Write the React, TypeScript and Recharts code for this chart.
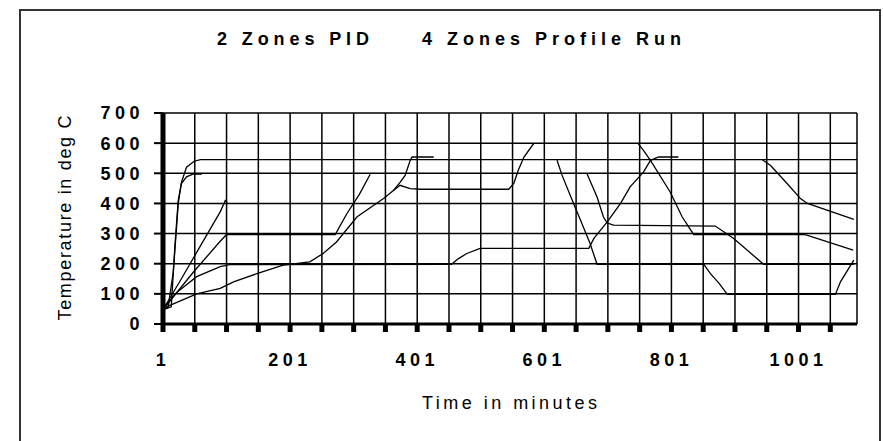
import { LineChart, Line, XAxis, YAxis, CartesianGrid } from "recharts";

// axis ticks
const xTicks = [1, 51, 101, 151, 201, 251, 301, 351, 401, 451, 501, 551, 601, 651, 701, 751, 801, 851, 901, 951, 1001, 1051];
const xLabels = [1, 201, 401, 601, 801, 1001];
const yTicks = [0, 100, 200, 300, 400, 500, 600, 700];

// 2 zones PID
const pid1T = [1, 9, 17, 22, 25, 30, 38, 50, 60, 1093];
const pid1V = [48, 55, 170, 310, 400, 470, 520, 540, 545, 545];
const pid2T = [1, 14, 20, 25, 30, 38, 48, 62];
const pid2V = [48, 57, 267, 411, 466, 488, 497, 497];

// 4 zones profile run (pieces, gaps where the log stops)
const zone1T = [1, 30, 59, 91, 99, 102];
const zone1V = [48, 150, 256, 372, 410, 402];
const zone2T = [1, 50, 90, 101, 272, 290, 310, 327];
const zone2V = [48, 175, 272, 297, 297, 365, 430, 497];
const zone3T = [1, 20, 54, 91, 106, 455, 466, 479, 500, 671, 679, 700, 721, 736, 757, 768, 781, 812];
const zone3V = [48, 100, 157, 190, 197, 198, 217, 234, 251, 251, 284, 339, 400, 455, 504, 543, 554, 554];
const zone4T = [1, 10, 54, 91, 112, 150, 190, 200, 232, 253, 274, 306, 348, 364, 374, 382, 390, 393, 427];
const zone4V = [48, 60, 100, 118, 140, 168, 195, 198, 206, 234, 272, 355, 416, 444, 470, 493, 543, 554, 554];

const soak450T = [364, 374, 390, 406, 545, 553, 560, 569, 584];
const soak450V = [444, 460, 449, 447, 447, 466, 510, 554, 598];
const drop1T = [621, 629, 647, 658, 673, 684, 852, 862, 876, 889, 1059, 1067, 1088];
const drop1V = [543, 493, 400, 344, 267, 198, 198, 168, 135, 98, 98, 140, 212];
const drop2T = [668, 684, 694, 700, 710, 870, 899, 946, 1088];
const drop2V = [499, 421, 355, 335, 328, 325, 284, 198, 198];
const peakT = [748, 757, 768, 799, 818, 836, 1009, 1014, 1087];
const peakV = [600, 576, 543, 438, 355, 297, 297, 295, 245];
const coolT = [944, 957, 983, 1004, 1015, 1088];
const coolV = [545, 526, 466, 416, 400, 347];

const zip = (t: number[], v: number[]) => t.map((x, i) => ({ t: x, v: v[i] }));

const series: [string, number[], number[]][] = [
  ["pid1", pid1T, pid1V],
  ["pid2", pid2T, pid2V],
  ["zone1", zone1T, zone1V],
  ["zone2", zone2T, zone2V],
  ["zone3", zone3T, zone3V],
  ["zone4", zone4T, zone4V],
  ["soak450", soak450T, soak450V],
  ["drop1", drop1T, drop1V],
  ["drop2", drop2T, drop2V],
  ["peak", peakT, peakV],
  ["cool", coolT, coolV],
];

const FONT = "'Liberation Sans', Arial, sans-serif";

function XTick({ x, y, payload }: any) {
  if (!xLabels.includes(payload.value)) return <g />;
  return (
    <text x={x} y={y} dy="0.71em" textAnchor="middle" fontFamily={FONT} fontWeight="bold" fontSize={18} letterSpacing={4.5} fill="#000">
      {payload.value}
    </text>
  );
}

function YTick({ x, y, payload }: any) {
  return (
    <text x={x} y={y} dy="0.36em" textAnchor="end" fontFamily={FONT} fontWeight="bold" fontSize={18} letterSpacing={4.5} fill="#000">
      {payload.value}
    </text>
  );
}

export default function App() {
  return (
    <div style={{ position: "relative", width: 883, height: 441, background: "#fff", overflow: "hidden" }}>
      <style>{"body{margin:0}"}</style>
      <LineChart width={883} height={441} margin={{ top: 113, right: 26, bottom: 77, left: 103 }}>
        <CartesianGrid stroke="#000" strokeWidth={1.5} />
        <XAxis
          type="number"
          dataKey="t"
          domain={[1, 1093]}
          ticks={xTicks}
          interval={0}
          height={40}
          tickSize={8}
          tickMargin={21}
          tick={(p: any) => <XTick {...p} />}
          axisLine={{ stroke: "#000", strokeWidth: 3 }}
          tickLine={{ stroke: "#000", strokeWidth: 5 }}
        />
        <YAxis
          type="number"
          domain={[0, 700]}
          ticks={yTicks}
          interval={0}
          width={60}
          tickSize={9}
          tickMargin={10}
          tick={(p: any) => <YTick {...p} />}
          axisLine={{ stroke: "#000", strokeWidth: 5 }}
          tickLine={{ stroke: "#000", strokeWidth: 2 }}
        />
        {series.map(([name, t, v]) => (
          <Line
            key={name}
            data={zip(t, v)}
            dataKey="v"
            type="linear"
            stroke="#000"
            strokeWidth={1.3}
            dot={false}
            isAnimationActive={false}
          />
        ))}
      </LineChart>
      <svg width={883} height={441} style={{ position: "absolute", left: 0, top: 0, pointerEvents: "none" }}>
        <rect x={20} y={10} width={860} height={440} fill="none" stroke="#333" strokeWidth={2} />
        <text x={217} y={45} fontFamily={FONT} fontWeight="bold" fontSize={18} textLength={152} lengthAdjust="spacing">
          2 Zones PID
        </text>
        <text x={422} y={45} fontFamily={FONT} fontWeight="bold" fontSize={18} textLength={259} lengthAdjust="spacing">
          4 Zones Profile Run
        </text>
        <text x={422} y={409} fontFamily={FONT} fontSize={18} textLength={175} lengthAdjust="spacing">
          Time in minutes
        </text>
        <text
          x={0}
          y={0}
          transform="translate(71,218) rotate(-90)"
          textAnchor="middle"
          fontFamily={FONT}
          fontSize={18}
          textLength={205}
          lengthAdjust="spacing"
        >
          Temperature in deg C
        </text>
      </svg>
    </div>
  );
}
